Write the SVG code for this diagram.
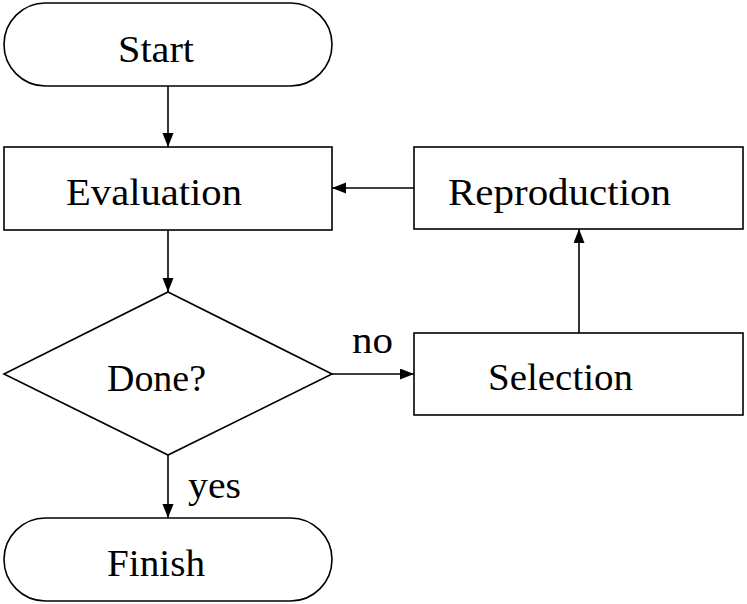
<svg xmlns="http://www.w3.org/2000/svg" width="747" height="604" viewBox="0 0 747 604">
<style>
.s{fill:#fff;stroke:#000;stroke-width:1.6}
.t{font-family:"Liberation Serif","DejaVu Serif",serif;font-size:37px;fill:#000}
.c{fill:none;stroke:#000;stroke-width:1.6}
</style>
<defs>
<marker id="ah" markerUnits="userSpaceOnUse" markerWidth="15" markerHeight="12" refX="14" refY="5.5" orient="auto">
<path d="M0,0 L14,5.5 L0,11 z" fill="#000"/>
</marker>
</defs>
<rect width="747" height="604" fill="#fff"/>
<g id="connectors">
<line class="c" x1="168" y1="86" x2="168" y2="147" marker-end="url(#ah)"/>
<line class="c" x1="168" y1="230" x2="168" y2="292" marker-end="url(#ah)"/>
<line class="c" x1="168" y1="455" x2="168" y2="518" marker-end="url(#ah)"/>
<line class="c" x1="332" y1="374" x2="414" y2="374" marker-end="url(#ah)"/>
<line class="c" x1="579" y1="333" x2="579" y2="229" marker-end="url(#ah)"/>
<line class="c" x1="414" y1="188" x2="332" y2="188" marker-end="url(#ah)"/>
<text class="t" x="352" y="353" textLength="41" lengthAdjust="spacingAndGlyphs">no</text>
<text class="t" x="188" y="498" textLength="53" lengthAdjust="spacingAndGlyphs">yes</text>
</g>
<g id="start">
<rect class="s" x="4" y="3" width="328" height="83" rx="41.5" ry="41.5"/>
<text class="t" x="118" y="62" textLength="76" lengthAdjust="spacingAndGlyphs">Start</text>
</g>
<g id="evaluation">
<rect class="s" x="4" y="147" width="328" height="83"/>
<text class="t" x="66" y="205" textLength="176" lengthAdjust="spacingAndGlyphs">Evaluation</text>
</g>
<g id="done">
<polygon class="s" points="168,292 332,374 168,455 4,374"/>
<text class="t" x="107" y="391" textLength="99" lengthAdjust="spacingAndGlyphs">Done?</text>
</g>
<g id="finish">
<rect class="s" x="4" y="518" width="328" height="83" rx="41.5" ry="41.5"/>
<text class="t" x="107" y="576" textLength="98" lengthAdjust="spacingAndGlyphs">Finish</text>
</g>
<g id="reproduction">
<rect class="s" x="414" y="147" width="329" height="82"/>
<text class="t" x="448" y="205" textLength="223" lengthAdjust="spacingAndGlyphs">Reproduction</text>
</g>
<g id="selection">
<rect class="s" x="414" y="333" width="329" height="82"/>
<text class="t" x="488" y="390" textLength="145" lengthAdjust="spacingAndGlyphs">Selection</text>
</g>
</svg>
